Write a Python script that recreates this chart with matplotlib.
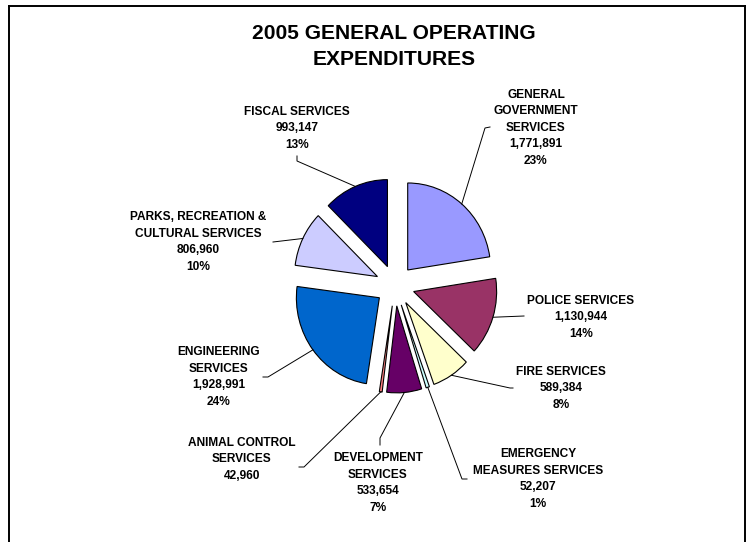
import matplotlib.pyplot as plt
from matplotlib.lines import Line2D
import numpy as np

plt.rcParams['font.family'] = ['Liberation Sans', 'DejaVu Sans']
plt.rcParams['font.weight'] = 'bold'

# Expenditure by department, clockwise from 12 o'clock
departments = [
    "GENERAL\nGOVERNMENT\nSERVICES",
    "POLICE SERVICES",
    "FIRE SERVICES",
    "EMERGENCY\nMEASURES SERVICES",
    "DEVELOPMENT\nSERVICES",
    "ANIMAL CONTROL\nSERVICES",
    "ENGINEERING\nSERVICES",
    "PARKS, RECREATION &\nCULTURAL SERVICES",
    "FISCAL SERVICES",
]
amounts = [1771891, 1130944, 589384, 52207, 533654, 42960, 1928991, 806960, 993147]
percents = ["23%", "14%", "8%", "1%", "7%", "", "24%", "10%", "13%"]
colors = ["#9999FF", "#993366", "#FFFFCC", "#CCFFFF", "#660066",
          "#FF8080", "#0066CC", "#CCCCFF", "#000080"]

W, H = 748, 542
cx, cy = 395, 285.5     # pie centre, pixels from top-left
rx, ry = 83, 87         # pie radii in pixels

# label block centres and leader-line anchor points (pixels)
label_pos = [(536, 127.5), (581, 317), (561, 388), (538, 479), (378, 483),
             (242, 459), (219, 377), (198, 242), (297, 128)]
leader_pts = [
    [(490, 127), (485, 128)],
    [(524, 316)],
    [(513, 388), (510, 388)],
    [(467, 479), (462, 479)],
    [(380, 445), (380, 438)],
    [(299, 467), (304, 467)],
    [(263, 377), (268, 377)],
    [(273, 242)],
    [(297, 156), (297, 161)],
]


def px(x, y):
    return (x - cx) / rx, (cy - y) / ry


fig = plt.figure(figsize=(W / 100, H / 100), dpi=100)
ax = fig.add_axes([0, 0, 1, 1])

wedges, _ = ax.pie(amounts, colors=colors, startangle=90, counterclock=False,
                   explode=[0.235] * len(amounts), radius=1,
                   wedgeprops=dict(edgecolor='black', linewidth=0.8))
ax.set_aspect('auto')
ax.set_xlim(-cx / rx, (W - cx) / rx)
ax.set_ylim(-(H - cy) / ry, cy / ry)
ax.axis('off')

for w, name, amt, pct, pos, pts in zip(wedges, departments, amounts, percents,
                                       label_pos, leader_pts):
    text = name + "\n" + f"{amt:,}"
    if pct:
        text += "\n" + pct
    ax.text(*px(*pos), text, ha='center', va='center', fontsize=8.6,
            fontweight='bold', linespacing=1.5)
    # leader line runs to the middle of the wedge's outer arc
    mid = np.deg2rad((w.theta1 + w.theta2) / 2)
    ex, ey = w.center[0] + np.cos(mid), w.center[1] + np.sin(mid)
    xs = [px(*p)[0] for p in pts] + [ex]
    ys = [px(*p)[1] for p in pts] + [ey]
    ax.plot(xs, ys, color='black', linewidth=0.7)

ax.text(*px(394, 46.5), "2005 GENERAL OPERATING\nEXPENDITURES", ha='center',
        va='center', fontsize=15.1, fontweight='bold', linespacing=1.45)

# chart border (open at the bottom)
for xs, ys in [([9, 9], [H, 6]), ([9, 745], [6, 6]), ([745, 745], [6, H])]:
    fig.add_artist(Line2D([x / W for x in xs], [1 - y / H for y in ys],
                          color='black', linewidth=1.4))

fig.savefig('out.png', dpi=100)
